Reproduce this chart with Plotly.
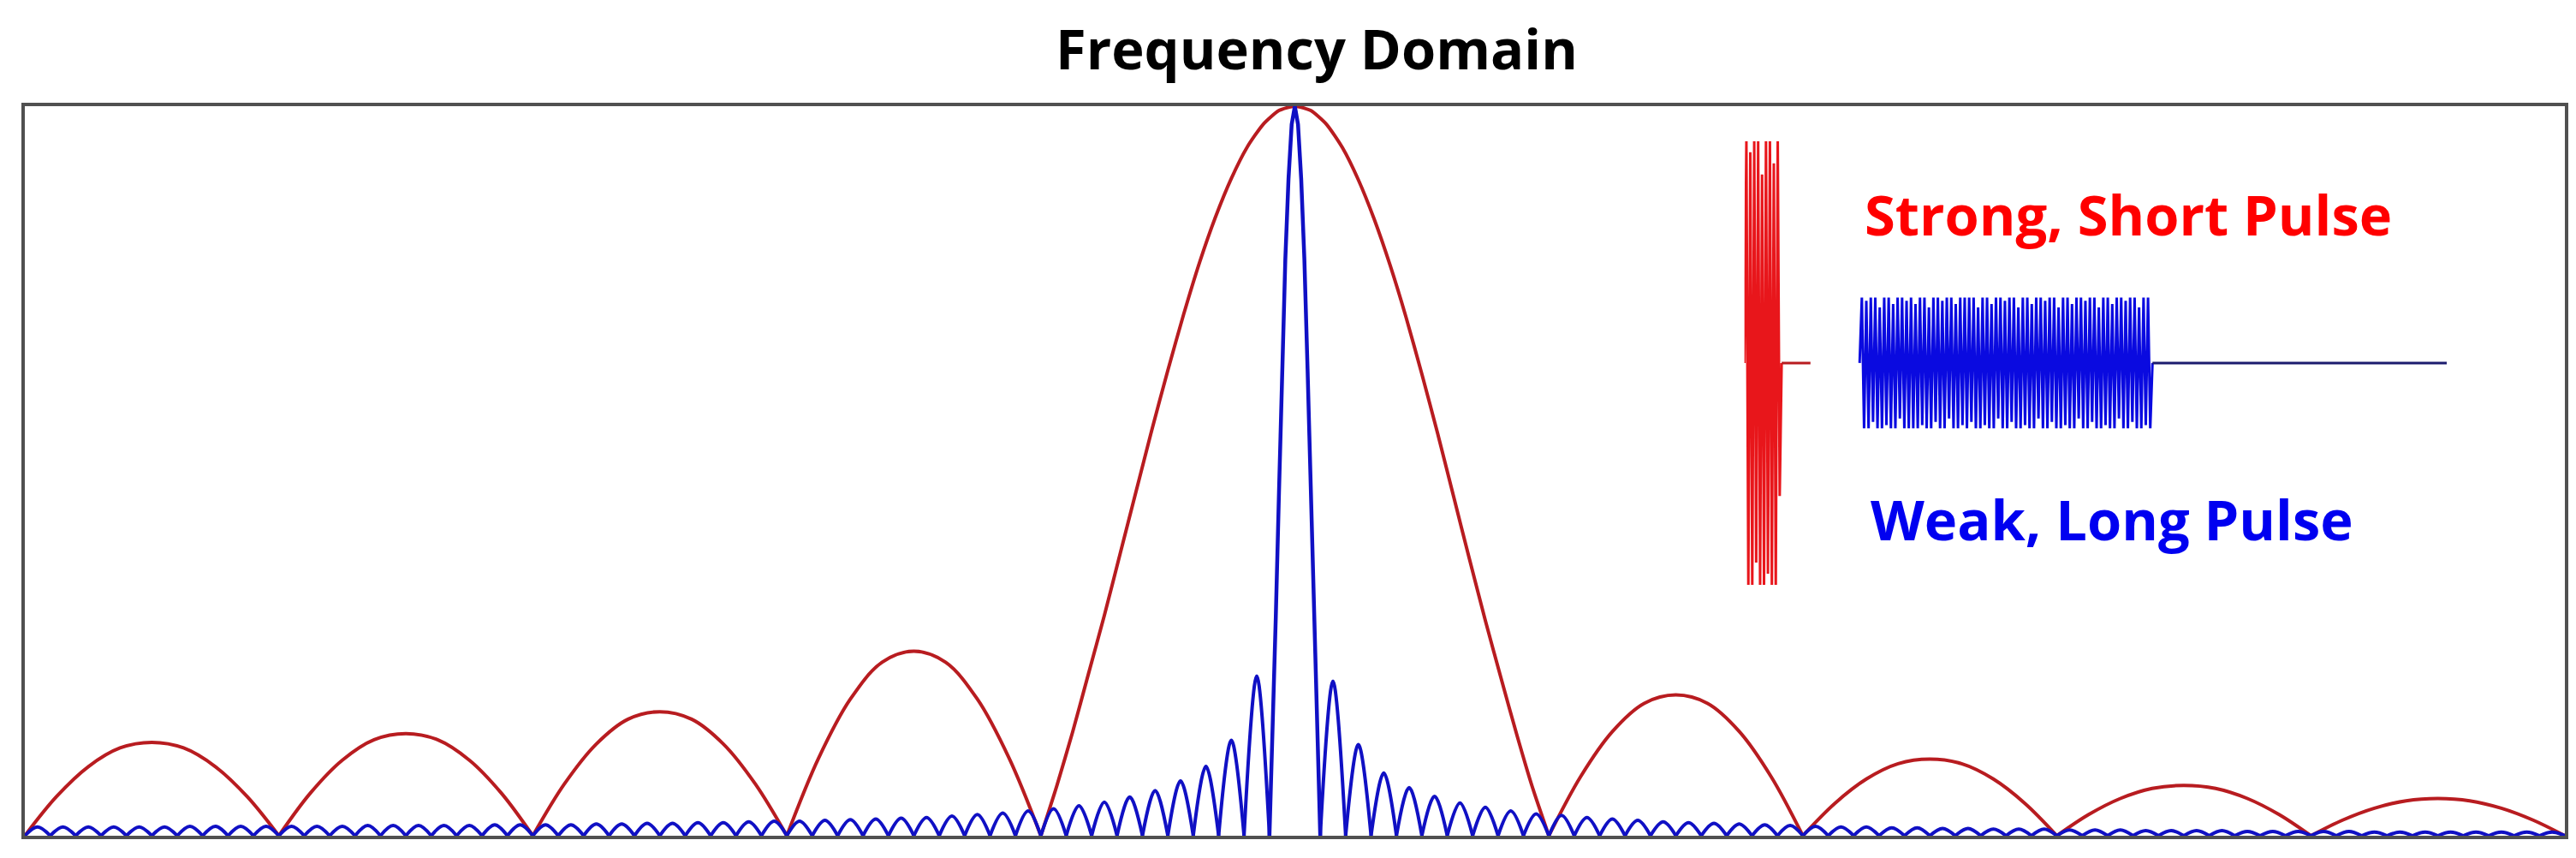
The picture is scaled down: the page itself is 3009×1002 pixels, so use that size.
"""Frequency Domain: |spectrum| of a strong short pulse vs a weak long pulse."""

import numpy as np
import plotly.graph_objects as go

# ---- data ----------------------------------------------------------------
# frequency axis runs -5 .. 5 (red zero spacing = 1, blue zero spacing = 0.1)
X_RANGE = [-5, 5]

# red (short pulse) main lobe, sampled every 1/16
RED_MAIN_X = [-1, -0.9375, -0.875, -0.8125, -0.75, -0.6875, -0.625, -0.5625,
              -0.5, -0.4375, -0.375, -0.3125, -0.25, -0.1875, -0.125, -0.0625, 0,
              0.0625, 0.125, 0.1875, 0.25, 0.3125, 0.375, 0.4375, 0.5,
              0.5625, 0.625, 0.6875, 0.75, 0.8125, 0.875, 0.9375, 1]
RED_MAIN_Y = [0, 0.068, 0.142, 0.222, 0.302, 0.387, 0.472, 0.557,
              0.638, 0.715, 0.786, 0.848, 0.901, 0.944, 0.975, 0.994, 1.0,
              0.994, 0.975, 0.943, 0.899, 0.845, 0.782, 0.711, 0.633,
              0.551, 0.465, 0.379, 0.295, 0.215, 0.137, 0.064, 0]
# normalised shape of one red side lobe (zero .. peak .. zero, eighths)
RED_LOBE_SHAPE = [0, 0.42, 0.74, 0.94, 1.0, 0.94, 0.74, 0.42, 0]
# red side-lobe peaks, listed from the centre outward
RED_LEFT_PEAK = [0.253, 0.170, 0.140, 0.128]
RED_RIGHT_PEAK = [0.193, 0.105, 0.069, 0.051]

# blue (long pulse) main lobe
BLUE_MAIN_X = [-0.1, -0.0875, -0.075, -0.0625, -0.05, -0.0375, -0.025, -0.0125, 0,
               0.0125, 0.025, 0.0375, 0.05, 0.0625, 0.075, 0.0875, 0.1]
BLUE_MAIN_Y = [0, 0.14, 0.30, 0.47, 0.64, 0.79, 0.90, 0.975, 1.0,
               0.975, 0.90, 0.79, 0.64, 0.47, 0.30, 0.14, 0]
# blue side lobe peaks, from the centre outward (49 lobes each side)
BLUE_LEFT_PEAK = [
    0.219, 0.131, 0.095, 0.075, 0.062, 0.053, 0.046, 0.041, 0.037,
    0.034, 0.031, 0.029, 0.027, 0.025, 0.024, 0.023, 0.022, 0.021, 0.020,
    0.020, 0.019, 0.018, 0.018, 0.017, 0.017, 0.016, 0.016, 0.015, 0.015,
    0.015, 0.015, 0.014, 0.014, 0.014, 0.014, 0.014, 0.013, 0.013, 0.013,
    0.013, 0.013, 0.013, 0.013, 0.012, 0.012, 0.012, 0.012, 0.012, 0.012,
]
BLUE_RIGHT_PEAK = [
    0.212, 0.125, 0.086, 0.066, 0.054, 0.045, 0.039, 0.034, 0.030,
    0.028, 0.025, 0.023, 0.021, 0.019, 0.018, 0.017, 0.016, 0.015, 0.014,
    0.013, 0.012, 0.012, 0.011, 0.011, 0.010, 0.010, 0.009, 0.009, 0.009,
    0.008, 0.008, 0.008, 0.007, 0.007, 0.007, 0.007, 0.006, 0.006, 0.006,
    0.006, 0.006, 0.005, 0.005, 0.005, 0.005, 0.005, 0.005, 0.005, 0.005,
]
BLUE_STEP = 0.1

# inset: time-domain pulses (time axis 0 .. 100)
RED_PULSE = [0.0, 1.0, -1.0, 0.95, -1.0, 1.0, -0.9, 1.0, -1.0, 0.85,
             -1.0, 1.0, -0.95, 1.0, -1.0, 0.9, -1.0, 1.0, -0.6, 0.0]
RED_PULSE_T = [0.0, 5.3]
RED_TAIL_T = [5.3, 9.4]
BLUE_PULSE = [
    0.00, 1.00, -1.00, 0.95, -1.00, 1.00, -0.90, 1.00, -1.00, 0.85, -1.00, 1.00,
    -0.95, 1.00, -1.00, 0.90, -1.00, 1.00, -0.85, 1.00, -1.00, 0.95, -1.00, 1.00,
    -1.00, 0.90, -1.00, 1.00, -0.95, 1.00, -1.00, 0.85, -1.00, 1.00, -0.90, 1.00,
    -1.00, 0.95, -1.00, 1.00, -0.85, 1.00, -1.00, 0.90, -1.00, 1.00, -0.95, 1.00,
    -1.00, 1.00, -0.90, 1.00, -1.00, 0.85, -1.00, 1.00, -0.95, 1.00, -1.00, 0.90,
    -1.00, 1.00, -0.85, 1.00, -1.00, 0.95, -1.00, 1.00, -0.90, 1.00, -1.00, 0.85,
    -1.00, 1.00, -0.95, 1.00, -1.00, 0.90, -1.00, 1.00, -0.85, 1.00, -1.00, 0.95,
    -1.00, 1.00, -0.90, 1.00, -1.00, 0.85, -1.00, 1.00, -0.95, 1.00, -1.00, 0.90,
    -1.00, 1.00, -0.85, 1.00, -1.00, 0.95, -1.00, 1.00, -0.90, 1.00, -1.00, 0.85,
    -1.00, 1.00, -0.95, 1.00, -1.00, 0.90, -1.00, 1.00, -0.85, 1.00, -1.00, 0.95,
    -1.00, 1.00, -0.90, 1.00, -1.00, 0.85, -1.00, 1.00, -0.95, 1.00, -1.00, 0.00,
]
BLUE_AMP = 0.295
BLUE_PULSE_T = [16.4, 58.1]
BLUE_TAIL_T = [58.1, 100.0]

TITLE = "Frequency Domain"
RED_LABEL = "Strong, Short Pulse"
BLUE_LABEL = "Weak, Long Pulse"

# ---- styling ----------------------------------------------------------------
RED = "#b81c20"
RED_PULSE_COLOR = "#e8161b"
BLUE = "#1010c4"
BLUE_PULSE_COLOR = "#0a0ae0"
NAVY = "#1c1c6e"
FRAME = "#505050"
FONT = "Open Sans, Lato, sans-serif"


def red_curve():
    xs, ys = [], []
    n = len(RED_LOBE_SHAPE) - 1
    for k, pk in enumerate(RED_LEFT_PEAK):
        x0 = -(k + 2)
        xs += [x0 + i / n for i in range(n + 1)] + [None]
        ys += [pk * s for s in RED_LOBE_SHAPE] + [None]
    for k, pk in enumerate(RED_RIGHT_PEAK):
        x0 = k + 1
        xs += [x0 + i / n for i in range(n + 1)] + [None]
        ys += [pk * s for s in RED_LOBE_SHAPE] + [None]
    return xs, ys


def blue_curve():
    xs, ys = [], []
    for k, pk in enumerate(BLUE_LEFT_PEAK):
        x1 = -(k + 1) * BLUE_STEP
        x0 = x1 - BLUE_STEP
        xs += [x0, (x0 + x1) / 2, x1, None]
        ys += [0, pk, 0, None]
    for k, pk in enumerate(BLUE_RIGHT_PEAK):
        x0 = (k + 1) * BLUE_STEP
        x1 = x0 + BLUE_STEP
        xs += [x0, (x0 + x1) / 2, x1, None]
        ys += [0, pk, 0, None]
    return xs, ys


fig = go.Figure()

rx, ry = red_curve()
bx, by = blue_curve()
fig.add_trace(go.Scatter(x=rx, y=ry, mode="lines", connectgaps=False,
                         line=dict(color=RED, width=4, shape="spline", smoothing=1.0)))
fig.add_trace(go.Scatter(x=RED_MAIN_X, y=RED_MAIN_Y, mode="lines",
                         line=dict(color=RED, width=4, shape="spline", smoothing=0.6)))
fig.add_trace(go.Scatter(x=bx, y=by, mode="lines", connectgaps=False,
                         line=dict(color=BLUE, width=4, shape="spline", smoothing=1.0)))
fig.add_trace(go.Scatter(x=BLUE_MAIN_X, y=BLUE_MAIN_Y, mode="lines",
                         line=dict(color=BLUE, width=4.5)))

# inset pulses
red_t = np.linspace(RED_PULSE_T[0], RED_PULSE_T[1], len(RED_PULSE))
fig.add_trace(go.Scatter(x=red_t, y=RED_PULSE, mode="lines", xaxis="x2", yaxis="y2",
                         line=dict(color=RED_PULSE_COLOR, width=3)))
fig.add_trace(go.Scatter(x=RED_TAIL_T, y=[0, 0], mode="lines", xaxis="x2", yaxis="y2",
                         line=dict(color=RED, width=3)))
blue_t = np.linspace(BLUE_PULSE_T[0], BLUE_PULSE_T[1], len(BLUE_PULSE))
fig.add_trace(go.Scatter(x=blue_t, y=[v * BLUE_AMP for v in BLUE_PULSE], mode="lines",
                         xaxis="x2", yaxis="y2",
                         line=dict(color=BLUE_PULSE_COLOR, width=3)))
fig.add_trace(go.Scatter(x=BLUE_TAIL_T, y=[0, 0], mode="lines", xaxis="x2", yaxis="y2",
                         line=dict(color=NAVY, width=3)))

fig.update_layout(
    width=3009, height=1002,
    paper_bgcolor="white", plot_bgcolor="white",
    showlegend=False,
    margin=dict(l=21, r=21, t=116, b=34),
    font=dict(family=FONT),
    xaxis=dict(range=X_RANGE, showgrid=False, zeroline=False, showticklabels=False,
               ticks="", showline=True, mirror=True, linecolor=FRAME, linewidth=4),
    yaxis=dict(range=[0, 1.0], showgrid=False, zeroline=False, showticklabels=False,
               ticks="", showline=True, mirror=True, linecolor=FRAME, linewidth=4),
    xaxis2=dict(domain=[0.677, 0.9535], range=[0, 100], anchor="y2", visible=False),
    yaxis2=dict(domain=[0.344, 0.952], range=[-1, 1], anchor="x2", visible=False),
)

for text, x, y, color in [(TITLE, 0.5085, 1.080, "black"),
                          (RED_LABEL, 0.8280, 0.852, "#ff0000"),
                          (BLUE_LABEL, 0.8218, 0.434, "#0000f0")]:
    fig.add_annotation(text="<b>" + text + "</b>", xref="paper", yref="paper",
                       x=x, y=y, xanchor="center", yanchor="middle", showarrow=False,
                       font=dict(size=65, color=color, family=FONT))

fig.write_html("out.html")
